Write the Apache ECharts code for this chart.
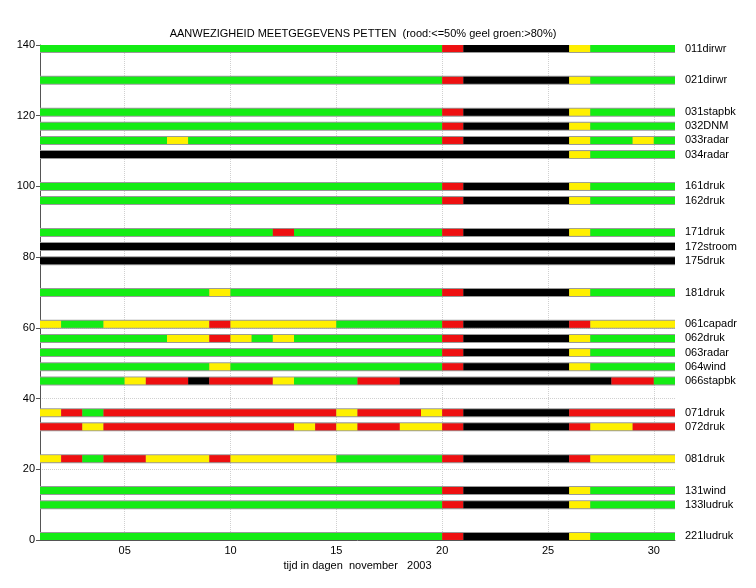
<!DOCTYPE html>
<html>
<head>
<meta charset="utf-8">
<script src="https://cdn.jsdelivr.net/npm/echarts@6/dist/echarts.min.js"></script>
<style>
  html, body { margin: 0; padding: 0; background: #fff; }
  #chart { width: 756px; height: 588px; }
</style>
</head>
<body>
<div id="chart"></div>
<script>
  // stations, their y position and the status per day (1..30 november)
  // G = groen (>80%), Y = geel, R = rood (<=50%), K = geen data
  var stations = ['011dirwr', '021dirwr', '031stapbk', '032DNM', '033radar', '034radar',
    '161druk', '162druk', '171druk', '172stroom', '175druk', '181druk',
    '061capadr', '062druk', '063radar', '064wind', '066stapbk',
    '071druk', '072druk', '081druk', '131wind', '133ludruk', '221ludruk']
  var stationY = [139, 130, 121, 117, 113, 109, 100, 96, 87, 83, 79, 70,
    61, 57, 53, 49, 45, 36, 32, 23, 14, 10, 1]
  var dayStatus = [
    'GGGGGGGGGGGGGGGGGGGRKKKKKYGGGG',
    'GGGGGGGGGGGGGGGGGGGRKKKKKYGGGG',
    'GGGGGGGGGGGGGGGGGGGRKKKKKYGGGG',
    'GGGGGGGGGGGGGGGGGGGRKKKKKYGGGG',
    'GGGGGGYGGGGGGGGGGGGRKKKKKYGGYG',
    'KKKKKKKKKKKKKKKKKKKKKKKKKYGGGG',
    'GGGGGGGGGGGGGGGGGGGRKKKKKYGGGG',
    'GGGGGGGGGGGGGGGGGGGRKKKKKYGGGG',
    'GGGGGGGGGGGRGGGGGGGRKKKKKYGGGG',
    'KKKKKKKKKKKKKKKKKKKKKKKKKKKKKK',
    'KKKKKKKKKKKKKKKKKKKKKKKKKKKKKK',
    'GGGGGGGGYGGGGGGGGGGRKKKKKYGGGG',
    'YGGYYYYYRYYYYYGGGGGRKKKKKRYYYY',
    'GGGGGGYYRYGYGGGGGGGRKKKKKYGGGG',
    'GGGGGGGGGGGGGGGGGGGRKKKKKYGGGG',
    'GGGGGGGGYGGGGGGGGGGRKKKKKYGGGG',
    'GGGGYRRKRRRYGGGRRKKKKKKKKKKRRG',
    'YRGRRRRRRRRRRRYRRRYRKKKKKRRRRR',
    'RRYRRRRRRRRRYRYRRYYRKKKKKRYYRR',
    'YRGRRYYYRYYYYYGGGGGRKKKKKRYYYY',
    'GGGGGGGGGGGGGGGGGGGRKKKKKYGGGG',
    'GGGGGGGGGGGGGGGGGGGRKKKKKYGGGG',
    'GGGGGGGGGGGGGGGGGGGRKKKKKYGGGG'
  ]
  var xTicks = [5, 10, 15, 20, 25, 30]

  var colors = { G: '#14ec14', Y: '#fff000', R: '#ee1010', K: '#000000' }
  var font = 'Liberation Sans'

  // merge equal days into runs: [start, end, y, code]
  var segments = []
  dayStatus.forEach(function (s, i) {
    var start = 0
    for (var d = 1; d <= s.length; d++) {
      if (d === s.length || s[d] !== s[start]) {
        segments.push([start + 1, d + 1, stationY[i], s[start]])
        start = d
      }
    }
  })
  var rows = stationY.map(function (y, i) { return [1, 31, y, stations[i]] })

  function drawLine (width, color) {
    return function (params, api) {
      var p1 = api.coord([api.value(0), api.value(2)])
      var p2 = api.coord([api.value(1), api.value(2)])
      return {
        type: 'line',
        shape: { x1: p1[0], y1: p1[1], x2: p2[0], y2: p2[1] },
        style: { stroke: color || colors[api.value(3)], lineWidth: width, lineCap: 'butt' }
      }
    }
  }

  var chart = echarts.init(document.getElementById('chart'))
  chart.setOption({
    animation: false,
    title: {
      text: 'AANWEZIGHEID MEETGEGEVENS PETTEN  (rood:<=50% geel groen:>80%)',
      left: 358,
      top: 23,
      textAlign: 'center',
      textStyle: { fontFamily: font, fontSize: 11, fontWeight: 'normal', color: '#000' }
    },
    grid: { left: 40, right: 81, top: 45, bottom: 48 },
    xAxis: {
      type: 'value',
      min: 1,
      max: 31,
      name: 'tijd in dagen  november   2003',
      nameLocation: 'middle',
      nameGap: 19,
      nameTextStyle: { fontFamily: font, fontSize: 11, color: '#000' },
      axisLine: { lineStyle: { color: '#555' } },
      axisTick: { show: false, customValues: xTicks },
      axisLabel: {
        customValues: xTicks,
        fontFamily: font, fontSize: 11, color: '#000', margin: 5,
        formatter: function (v) { return v < 10 ? '0' + v : '' + v }
      },
      splitLine: { show: true, lineStyle: { color: '#d0d0d0', type: 'dotted' } }
    },
    yAxis: {
      type: 'value',
      min: 0,
      max: 140,
      interval: 20,
      axisLine: { show: true, lineStyle: { color: '#555' } },
      axisTick: { show: true, length: 4, lineStyle: { color: '#555' } },
      axisLabel: { fontFamily: font, fontSize: 11, color: '#000', margin: 5 },
      splitLine: { show: true, lineStyle: { color: '#d0d0d0', type: 'dotted' } }
    },
    series: [
      {
        type: 'custom',
        clip: true,
        data: rows,
        encode: { x: [0, 1], y: 2 },
        renderItem: drawLine(9, '#9a9a9a')
      },
      {
        type: 'custom',
        clip: true,
        data: segments,
        encode: { x: [0, 1], y: 2 },
        renderItem: drawLine(7)
      },
      {
        type: 'custom',
        clip: false,
        data: rows,
        encode: { x: 1, y: 2 },
        renderItem: function (params, api) {
          var p = api.coord([api.value(1), api.value(2)])
          return {
            type: 'text',
            x: p[0] + 10,
            y: p[1],
            style: {
              text: rows[params.dataIndex][3],
              fill: '#000',
              fontFamily: font,
              fontSize: 11,
              align: 'left',
              verticalAlign: 'middle'
            }
          }
        }
      }
    ]
  })
</script>
</body>
</html>
